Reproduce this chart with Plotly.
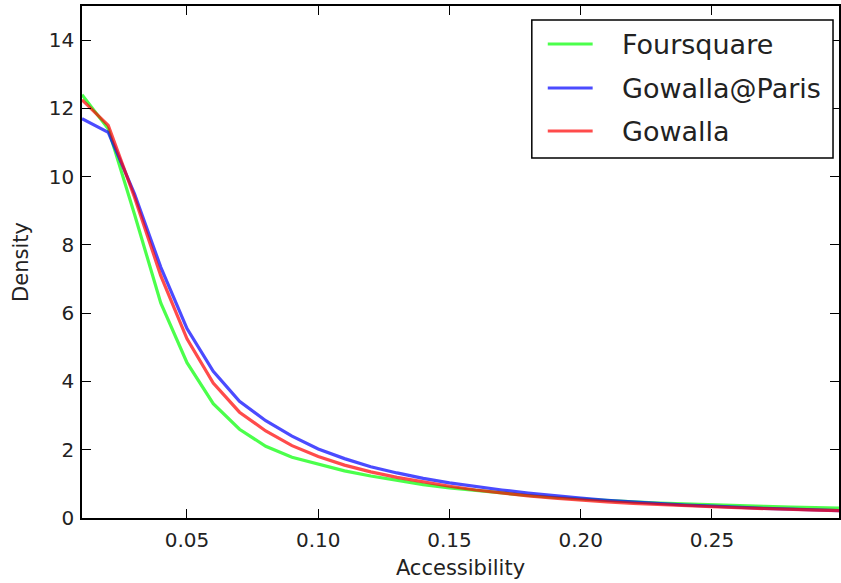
import plotly.graph_objects as go

x_vals = [round(0.01 * i, 2) for i in range(1, 31)]

foursquare = [12.4, 11.4, 8.9, 6.3, 4.55, 3.35, 2.6, 2.1, 1.78, 1.57,
              1.38, 1.23, 1.1, 0.98, 0.88, 0.8, 0.73, 0.66, 0.6, 0.55,
              0.51, 0.47, 0.44, 0.41, 0.39, 0.36, 0.34, 0.32, 0.31, 0.29]
gowalla_paris = [11.7, 11.3, 9.5, 7.35, 5.55, 4.3, 3.42, 2.85, 2.4, 2.02,
                 1.74, 1.5, 1.32, 1.16, 1.03, 0.92, 0.82, 0.73, 0.65, 0.58,
                 0.52, 0.47, 0.42, 0.38, 0.35, 0.31, 0.28, 0.26, 0.23, 0.21]
gowalla = [12.25, 11.5, 9.4, 7.1, 5.25, 3.95, 3.1, 2.55, 2.12, 1.8,
           1.55, 1.35, 1.19, 1.05, 0.93, 0.82, 0.73, 0.65, 0.58, 0.52,
           0.47, 0.43, 0.39, 0.36, 0.33, 0.3, 0.27, 0.25, 0.23, 0.21]

series_names = ["Foursquare", "Gowalla@Paris", "Gowalla"]
series_vals = [foursquare, gowalla_paris, gowalla]
series_colors = ["rgb(0,255,0)", "rgb(0,0,255)", "rgb(255,0,0)"]

x_ticks = [0.05, 0.10, 0.15, 0.20, 0.25]
x_ticklabels = ["0.05", "0.10", "0.15", "0.20", "0.25"]
y_ticks = [0, 2, 4, 6, 8, 10, 12, 14]
y_ticklabels = ["0", "2", "4", "6", "8", "10", "12", "14"]

W, H = 841, 583
ML, MR, MT, MB = 82, 0, 6, 65
PW, PH = W - ML - MR, H - MT - MB


def px_x(p):
    return (p - ML) / PW


def px_y(p):
    return 1 - (p - MT) / PH


fig = go.Figure()
for name, vals, col in zip(series_names, series_vals, series_colors):
    fig.add_trace(go.Scatter(x=x_vals, y=vals, mode="lines", name=name,
                             line=dict(color=col, width=3.2), opacity=0.7,
                             showlegend=False))

font_family = "DejaVu Sans"
axis_common = dict(showline=True, linecolor="black", linewidth=1.5, mirror="ticks",
                   ticks="inside", ticklen=9, tickcolor="black", tickwidth=1,
                   showgrid=False, zeroline=False,
                   tickfont=dict(family=font_family, size=20, color="#222"))

# custom legend (matplotlib style)
shapes = [dict(type="rect", xref="paper", yref="paper",
               x0=px_x(533), x1=px_x(835), y0=px_y(158), y1=px_y(20),
               line=dict(color="black", width=1.5), fillcolor="white", layer="above")]
annotations = []
row_y = [44, 88, 131]
for name, col, ry in zip(series_names, series_colors, row_y):
    shapes.append(dict(type="line", xref="paper", yref="paper",
                       x0=px_x(549), x1=px_x(594), y0=px_y(ry), y1=px_y(ry),
                       line=dict(color=col, width=3.2), opacity=0.7, layer="above"))
    annotations.append(dict(xref="paper", yref="paper", x=px_x(621), y=px_y(ry),
                            xanchor="left", yanchor="middle", text=name, showarrow=False,
                            font=dict(family=font_family, size=27, color="#222")))

fig.update_layout(
    width=W, height=H,
    margin=dict(l=ML, r=MR, t=MT, b=MB),
    paper_bgcolor="white", plot_bgcolor="white",
    font=dict(family=font_family, color="#222"),
    xaxis=dict(range=[0.01, 0.2984], tickvals=x_ticks, ticktext=x_ticklabels,
               ticklabelstandoff=3,
               title=dict(text="Accessibility", font=dict(family=font_family, size=21, color="#222"), standoff=10),
               **axis_common),
    yaxis=dict(range=[0, 15], tickvals=y_ticks, ticktext=y_ticklabels,
               ticklabelstandoff=2,
               title=dict(text="Density", font=dict(family=font_family, size=21, color="#222"), standoff=14),
               **axis_common),
    shapes=shapes,
    annotations=annotations,
    showlegend=False,
)

fig.write_html("out.html")
